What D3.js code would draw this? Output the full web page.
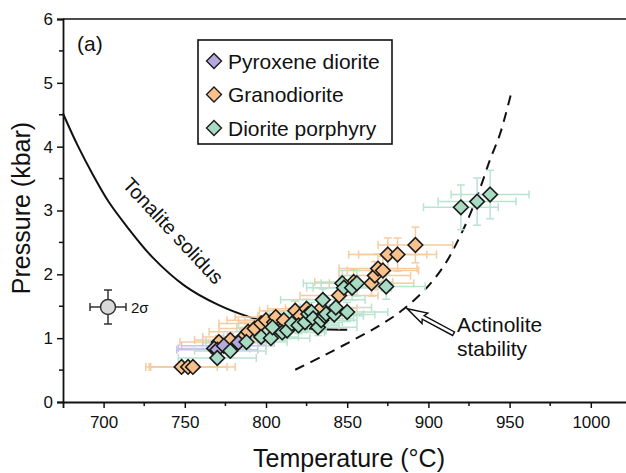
<!DOCTYPE html>
<html>
<head>
<meta charset="utf-8">
<script src="https://cdn.jsdelivr.net/npm/d3@7"></script>
<style>
  body { margin: 0; background: #fff; }
  text { font-family: "Liberation Sans", Arial, sans-serif; fill: #111; }
</style>
</head>
<body>
<div id="chart"></div>
<script>
// ---- data ----
const pyxT    = [768, 770, 774, 783];
const pyxP    = [0.84, 0.82, 0.88, 0.93];
const pyxTErr = [22, 25, 26, 22];
const pyxPErr = [0.08, 0.09, 0.1, 0.1];

const grdT    = [748, 752, 755, 771, 778, 786, 789, 793, 797, 800, 805, 806, 811, 818, 821, 825, 834, 845, 854, 865, 867, 869, 872, 875, 881, 892];
const grdP    = [0.55, 0.55, 0.55, 0.94, 0.97, 1.02, 1.10, 1.15, 1.23, 1.28, 1.25, 1.33, 1.28, 1.43, 1.35, 1.46, 1.47, 1.67, 1.88, 1.86, 1.98, 2.09, 2.06, 2.31, 2.31, 2.46];
const grdTErr = [22, 24, 26, 24, 22, 25, 24, 22, 26, 24, 22, 25, 24, 22, 26, 24, 22, 24, 24, 26, 22, 24, 22, 24, 24, 23];
const grdPErr = [0.05, 0.05, 0.05, 0.1, 0.1, 0.12, 0.12, 0.12, 0.12, 0.14, 0.13, 0.13, 0.14, 0.15, 0.14, 0.15, 0.16, 0.18, 0.2, 0.2, 0.22, 0.23, 0.22, 0.26, 0.26, 0.28];

const dpT    = [770, 778, 788, 797, 803, 804, 810, 813, 816, 820, 824, 826, 828, 829, 832, 834, 835, 836, 837, 842, 843, 847, 848, 850, 853, 856, 874, 920, 930, 938];
const dpP    = [0.69, 0.80, 0.94, 1.02, 1.00, 1.17, 1.09, 1.12, 1.23, 1.20, 1.25, 1.38, 1.41, 1.31, 1.17, 1.28, 1.60, 1.35, 1.38, 1.37, 1.48, 1.86, 1.79, 1.41, 1.79, 1.86, 1.81, 3.05, 3.14, 3.25];
const dpTErr = [24, 22, 25, 23, 24, 22, 26, 24, 22, 25, 23, 24, 22, 25, 24, 22, 26, 24, 23, 25, 22, 24, 23, 25, 24, 22, 24, 23, 24, 24];
const dpPErr = [0.08, 0.1, 0.1, 0.12, 0.12, 0.12, 0.12, 0.13, 0.14, 0.13, 0.14, 0.15, 0.15, 0.14, 0.13, 0.14, 0.17, 0.15, 0.15, 0.15, 0.16, 0.2, 0.19, 0.15, 0.19, 0.2, 0.2, 0.35, 0.37, 0.38];

const solidusT = [675, 684, 693, 703, 714, 730, 750, 770, 790, 810, 825, 850];
const solidusP = [4.52, 4.02, 3.58, 3.14, 2.76, 2.27, 1.82, 1.53, 1.33, 1.2, 1.15, 1.13];

const actT = [818, 835, 853, 870, 885, 900, 910, 917, 925, 932, 938, 944, 951];
const actP = [0.505, 0.72, 0.96, 1.2, 1.46, 1.82, 2.15, 2.47, 2.9, 3.36, 3.8, 4.19, 4.84];

const xTicks = [700, 750, 800, 850, 900, 950, 1000];
const yTicks = [0, 1, 2, 3, 4, 5, 6];

const seriesNames = ['Pyroxene diorite', 'Granodiorite', 'Diorite  porphyry'];
const fills = ['#b3a9dc', '#f8c18c', '#a7dbc3'];
const errColors = ['#c9c2ea', '#f7cba0', '#b9e4d0'];

const width = 626, height = 473;
const svg = d3.select('#chart').append('svg')
    .attr('width', width)
    .attr('height', height);

const x = d3.scaleLinear().domain([675, 1025]).range([63, 631.4]);
const y = d3.scaleLinear().domain([0, 6]).range([402, 19]);

const series = [
  {T: pyxT, P: pyxP, tE: pyxTErr, pE: pyxPErr},
  {T: grdT, P: grdP, tE: grdTErr, pE: grdPErr},
  {T: dpT, P: dpP, tE: dpTErr, pE: dpPErr}
].map((s, i) => ({
  name: seriesNames[i], fill: fills[i], err: errColors[i],
  pts: s.T.map((t, j) => ({t: t, p: s.P[j], te: s.tE[j], pe: s.pE[j]}))
}));

// frame top line
svg.append('line')
    .attr('x1', x(675)).attr('x2', width)
    .attr('y1', y(6)).attr('y2', y(6))
    .attr('stroke', '#111').attr('stroke-width', 1.5);

// axes
const xAxis = d3.axisBottom(x).tickValues(xTicks).tickFormat(d3.format('d')).tickSize(6).tickPadding(8);
const gx = svg.append('g').attr('transform', `translate(0,${y(0)})`).call(xAxis);
gx.append('g').selectAll('line')
    .data(d3.range(725, 1025, 50))
    .join('line')
    .attr('x1', d => x(d)).attr('x2', d => x(d))
    .attr('y1', 0).attr('y2', 4)
    .attr('stroke', '#111').attr('stroke-width', 1.5);

const yAxis = d3.axisLeft(y).tickValues(yTicks).tickFormat(d3.format('d')).tickSize(6).tickPadding(4);
const gy = svg.append('g').attr('transform', `translate(${x(675)},0)`).call(yAxis);
gy.append('g').selectAll('line')
    .data(d3.range(0.5, 6, 1))
    .join('line')
    .attr('x1', 0).attr('x2', -4)
    .attr('y1', d => y(d)).attr('y2', d => y(d))
    .attr('stroke', '#111').attr('stroke-width', 1.5);

[gx, gy].forEach(g => {
  g.select('.domain').attr('stroke', '#111').attr('stroke-width', 1.8);
  g.selectAll('.tick line').attr('stroke', '#111').attr('stroke-width', 1.5);
  g.selectAll('.tick text')
    .attr('font-family', '"Liberation Sans", Arial, sans-serif')
    .attr('font-size', 17).attr('fill', '#111');
});

svg.append('text')
    .attr('x', 349).attr('y', 467)
    .attr('text-anchor', 'middle')
    .attr('font-size', 25)
    .text('Temperature (°C)');

svg.append('text')
    .attr('transform', 'translate(30,208) rotate(-90)')
    .attr('text-anchor', 'middle')
    .attr('font-size', 25)
    .text('Pressure (kbar)');

const lineGen = d3.line().x(d => x(d[0])).y(d => y(d[1])).curve(d3.curveCatmullRom);

// tonalite solidus
svg.append('path')
    .attr('d', lineGen(solidusT.map((t, i) => [t, solidusP[i]])))
    .attr('fill', 'none').attr('stroke', '#111').attr('stroke-width', 2);

// actinolite stability
svg.append('path')
    .attr('d', lineGen(actT.map((t, i) => [t, actP[i]])))
    .attr('fill', 'none').attr('stroke', '#111').attr('stroke-width', 2)
    .attr('stroke-dasharray', '10,7');

// error bars
const cap = 4;
series.forEach(s => {
  const g = svg.append('g').attr('stroke', s.err).attr('stroke-width', 1.5).attr('fill', 'none');
  s.pts.forEach(d => {
    const x0 = x(d.t - d.te), x1 = x(d.t + d.te), yc = y(d.p);
    const y0 = y(d.p - d.pe), y1 = y(d.p + d.pe), xc = x(d.t);
    g.append('line').attr('x1', x0).attr('x2', x1).attr('y1', yc).attr('y2', yc);
    g.append('line').attr('x1', x0).attr('x2', x0).attr('y1', yc - cap).attr('y2', yc + cap);
    g.append('line').attr('x1', x1).attr('x2', x1).attr('y1', yc - cap).attr('y2', yc + cap);
    g.append('line').attr('x1', xc).attr('x2', xc).attr('y1', y0).attr('y2', y1);
    g.append('line').attr('x1', xc - cap).attr('x2', xc + cap).attr('y1', y0).attr('y2', y0);
    g.append('line').attr('x1', xc - cap).attr('x2', xc + cap).attr('y1', y1).attr('y2', y1);
  });
});

// diamonds
const diamond = r => `M0,${-r}L${r},0L0,${r}L${-r},0Z`;
[1, 0, 2].forEach(i => {
  const s = series[i];
  svg.append('g').selectAll('path')
    .data(s.pts)
    .join('path')
    .attr('d', diamond(7.3))
    .attr('transform', d => `translate(${x(d.t)},${y(d.p)})`)
    .attr('fill', s.fill)
    .attr('stroke', '#1a1a1a')
    .attr('stroke-width', 1.6);
});

// solidus label
svg.append('text')
    .attr('transform', 'translate(172,232) rotate(47)')
    .attr('text-anchor', 'middle')
    .attr('dominant-baseline', 'middle')
    .attr('font-size', 20)
    .text('Tonalite solidus');

// actinolite arrow (hollow)
const tip = [x(887), y(1.46)], tail = [x(915.5), y(1.07)];
const ang = Math.atan2(tail[1] - tip[1], tail[0] - tip[0]) * 180 / Math.PI;
const len = Math.hypot(tail[0] - tip[0], tail[1] - tip[1]);
svg.append('path')
    .attr('transform', `translate(${tip[0]},${tip[1]}) rotate(${ang})`)
    .attr('d', `M0,0L20,-6L18,-2L${len},-2L${len},2L18,2L20,6Z`)
    .attr('fill', '#fff').attr('stroke', '#111').attr('stroke-width', 1.4);

svg.append('text').attr('x', 457).attr('y', 332).attr('font-size', 21).text('Actinolite');
svg.append('text').attr('x', 457).attr('y', 356).attr('font-size', 21).text('stability');

// panel label
svg.append('text').attr('x', 77).attr('y', 51).attr('font-size', 21).text('(a)');

// 2 sigma symbol
const sg = svg.append('g').attr('stroke', '#333').attr('stroke-width', 1.5);
sg.append('line').attr('x1', 90).attr('x2', 126).attr('y1', 307).attr('y2', 307);
sg.append('line').attr('x1', 90).attr('x2', 90).attr('y1', 303).attr('y2', 311);
sg.append('line').attr('x1', 126).attr('x2', 126).attr('y1', 303).attr('y2', 311);
sg.append('line').attr('x1', 108).attr('x2', 108).attr('y1', 290).attr('y2', 324);
sg.append('line').attr('x1', 104).attr('x2', 112).attr('y1', 290).attr('y2', 290);
sg.append('line').attr('x1', 104).attr('x2', 112).attr('y1', 324).attr('y2', 324);
sg.append('circle').attr('cx', 108).attr('cy', 307).attr('r', 7.5)
    .attr('fill', '#d9d9d9').attr('stroke', '#333');
svg.append('text').attr('x', 131).attr('y', 313).attr('font-size', 15).text('2σ');

// legend
const lg = svg.append('g');
lg.append('rect').attr('x', 198).attr('y', 40).attr('width', 194).attr('height', 104)
    .attr('fill', '#fff').attr('stroke', '#111').attr('stroke-width', 1.6);
series.forEach((s, i) => {
  const cy = 61 + i * 33.5;
  lg.append('path').attr('d', diamond(7.5))
    .attr('transform', `translate(214,${cy})`)
    .attr('fill', s.fill).attr('stroke', '#1a1a1a').attr('stroke-width', 1.4);
  lg.append('text').attr('x', 228).attr('y', cy + 7.5)
    .attr('font-size', 21).text(s.name);
});
</script>
</body>
</html>
